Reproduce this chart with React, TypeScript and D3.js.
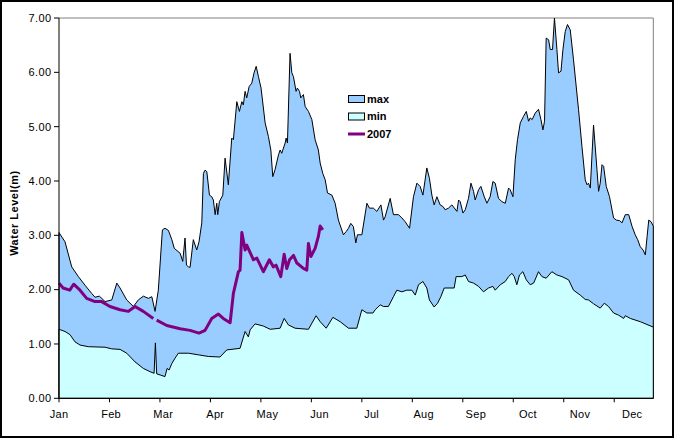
import React from "react";
import * as d3 from "d3";

// [day of year, water level (m)]
const maxSeries: [number, number][] = [
  [0, 3.05], [3.7, 2.88], [7.8, 2.42], [11.9, 2.24], [16.0, 2.08], [20.1, 1.93], [22.1, 1.86], [24.8, 1.88],
  [28.3, 1.78], [32.4, 1.81], [35.5, 2.12], [37.5, 2.03], [41.6, 1.81], [45.7, 1.69], [48.7, 1.81], [51.8, 1.88],
  [54.9, 1.84], [57.0, 1.87], [59.0, 1.6], [61.0, 1.99], [63.5, 3.1], [65.1, 3.13], [67.2, 3.09], [69.3, 2.92],
  [70.8, 2.76], [74.4, 2.67], [76.0, 2.52], [77.4, 2.95], [78.3, 2.45], [79.5, 2.42], [80.5, 2.41], [82.5, 2.92],
  [84.6, 2.73], [86.0, 2.88], [87.7, 3.23], [88.7, 4.14], [89.7, 4.2], [90.8, 4.17], [92.4, 3.74], [93.8, 3.71],
  [94.8, 3.65], [95.9, 3.38], [96.9, 3.59], [97.5, 3.38], [98.5, 3.62], [100.6, 3.74], [102.0, 4.42], [104.0, 3.93],
  [106.1, 4.79], [107.1, 4.76], [109.2, 5.46], [110.8, 5.28], [112.3, 5.46], [113.2, 5.4], [114.3, 5.65], [115.3, 5.53],
  [116.8, 5.74], [118.4, 5.8], [119.8, 5.99], [121.1, 6.11], [122.5, 5.92], [124.1, 5.71], [126.6, 5.07], [128.6, 4.82],
  [130.1, 4.57], [131.3, 4.08], [132.7, 4.21], [134.8, 4.48], [135.8, 4.57], [136.8, 4.51], [138.9, 4.7], [139.5, 4.79],
  [140.3, 4.7], [141.9, 6.35], [143.0, 5.99], [144.0, 5.92], [145.6, 5.65], [146.4, 5.71], [147.7, 5.65], [148.5, 5.53],
  [150.1, 5.59], [151.2, 5.37], [153.2, 5.28], [155.3, 5.13], [157.3, 4.76], [159.3, 4.57], [160.4, 4.33], [162.0, 4.14],
  [163.5, 4.02], [164.9, 3.78], [167.6, 3.74], [169.6, 3.59], [171.6, 3.28], [174.7, 3.01], [176.4, 3.07], [177.8, 3.13],
  [179.2, 3.22], [180.8, 3.16], [182.3, 2.86], [183.3, 3.01], [186.0, 3.01], [189.1, 3.59], [190.7, 3.5], [193.1, 3.5],
  [195.2, 3.44], [197.7, 3.56], [199.3, 3.28], [200.3, 3.34], [203.4, 3.68], [205.4, 3.38], [208.5, 3.38], [210.6, 3.32],
  [212.6, 3.25], [215.3, 3.13], [217.7, 3.71], [219.8, 3.96], [221.8, 3.9], [223.5, 3.74], [225.9, 4.24], [227.5, 4.05],
  [229.0, 3.74], [230.4, 3.56], [232.1, 3.71], [234.1, 3.56], [235.8, 3.53], [237.2, 3.47], [239.2, 3.5], [241.3, 3.56],
  [244.4, 3.44], [245.4, 3.65], [246.4, 3.62], [248.1, 3.41], [249.5, 3.47], [251.5, 3.68], [253.0, 3.96], [254.6, 3.81],
  [255.6, 3.65], [257.7, 3.84], [259.1, 3.9], [261.2, 3.71], [262.8, 3.59], [264.8, 3.71], [266.5, 3.99], [267.9, 3.96],
  [269.9, 3.68], [272.0, 3.62], [274.1, 3.59], [276.1, 3.87], [277.1, 3.84], [278.8, 3.71], [280.2, 4.39], [281.6, 4.76],
  [283.3, 5.07], [285.3, 5.19], [287.0, 5.28], [288.4, 5.1], [289.4, 5.16], [290.6, 5.13], [292.5, 5.25], [294.5, 5.32],
  [296.0, 5.13], [297.2, 4.94], [298.2, 5.1], [299.2, 6.63], [300.7, 6.6], [301.7, 6.42], [303.1, 6.42], [304.3, 7.0],
  [305.8, 6.42], [306.8, 5.99], [308.3, 6.02], [309.5, 6.42], [310.9, 6.75], [312.3, 6.88], [314.0, 6.78], [316.0, 6.23],
  [319.1, 5.31], [321.2, 4.63], [323.2, 4.02], [324.3, 3.93], [325.2, 3.96], [326.3, 3.87], [328.3, 5.03], [330.4, 4.21],
  [331.4, 3.81], [332.4, 3.96], [333.5, 4.3], [334.5, 4.27], [336.1, 3.9], [338.1, 3.71], [340.6, 3.32], [342.3, 3.28],
  [344.3, 3.27], [345.8, 3.23], [347.8, 3.38], [349.9, 3.38], [352.0, 3.16], [353.9, 3.01], [355.4, 2.92], [357.0, 2.79],
  [358.7, 2.73], [360.1, 2.64], [361.2, 2.98], [362.2, 3.28], [363.6, 3.25], [365, 3.17],
];

const minSeries: [number, number][] = [
  [0, 1.27], [3.7, 1.23], [6.8, 1.17], [9.8, 1.04], [12.9, 0.98], [18.0, 0.95], [28.3, 0.94], [32.4, 0.91],
  [37.5, 0.9], [41.6, 0.83], [46.7, 0.67], [51.8, 0.55], [55.9, 0.49], [58.4, 0.46], [59.2, 1.02], [60.0, 0.45],
  [62.1, 0.43], [65.1, 0.4], [66.4, 0.55], [67.6, 0.52], [69.3, 0.64], [71.3, 0.74], [73.3, 0.83], [79.5, 0.83],
  [85.6, 0.8], [91.7, 0.77], [98.9, 0.76], [103.0, 0.89], [111.2, 0.92], [114.3, 1.23], [116.3, 1.13], [117.4, 1.26],
  [120.4, 1.37], [125.5, 1.33], [129.7, 1.27], [135.8, 1.29], [138.3, 1.47], [140.9, 1.35], [145.0, 1.29], [153.2, 1.27],
  [157.9, 1.52], [160.4, 1.41], [164.1, 1.29], [168.2, 1.49], [172.7, 1.41], [177.8, 1.29], [182.9, 1.29], [186.0, 1.63],
  [189.1, 1.57], [192.8, 1.57], [194.2, 1.63], [197.3, 1.72], [199.3, 1.69], [202.3, 1.69], [205.4, 1.87], [207.5, 1.99],
  [210.6, 1.96], [213.6, 1.99], [216.7, 1.99], [218.8, 1.9], [220.8, 2.09], [223.5, 2.15], [225.9, 2.03], [227.5, 1.81],
  [230.4, 1.68], [232.5, 1.75], [234.5, 1.87], [236.6, 2.03], [242.7, 2.03], [243.9, 2.24], [247.4, 2.24], [249.5, 2.27],
  [251.5, 2.15], [254.6, 2.12], [257.7, 2.06], [260.7, 1.96], [263.8, 2.03], [266.5, 2.06], [267.9, 1.99], [271.0, 2.09],
  [274.1, 2.15], [276.1, 2.24], [278.2, 2.3], [279.6, 2.24], [281.2, 2.09], [282.8, 2.27], [284.9, 2.33], [287.0, 2.18],
  [289.4, 2.09], [291.5, 2.12], [294.5, 2.33], [296.6, 2.24], [299.2, 2.21], [302.7, 2.33], [305.8, 2.27], [308.9, 2.24],
  [313.0, 2.18], [316.0, 1.99], [320.1, 1.9], [323.2, 1.82], [325.2, 1.81], [328.3, 1.74], [332.4, 1.66], [334.9, 1.75],
  [337.5, 1.69], [340.6, 1.57], [343.7, 1.53], [346.8, 1.47], [347.8, 1.52], [350.9, 1.47], [357.0, 1.41], [365, 1.31],
];

// null = missing reading
const series2007: [number, number | null][] = [
  [0, 2.12], [2.5, 2.03], [6.6, 1.99], [9.0, 2.1], [12.9, 1.99], [17.0, 1.84], [22.1, 1.78], [26.2, 1.78],
  [31.3, 1.69], [37.5, 1.63], [42.6, 1.6], [46.7, 1.69], [51.8, 1.6], [57.9, 1.47], [59.0, null], [60.0, 1.44],
  [66.2, 1.34], [74.4, 1.28], [80.5, 1.25], [86.0, 1.2], [89.7, 1.25], [93.8, 1.47], [97.9, 1.55], [100.9, 1.47],
  [105.1, 1.39], [107.1, 1.93], [110.2, 2.33], [111.2, 2.36], [112.3, 3.05], [114.3, 2.73], [115.3, 2.82], [119.4, 2.55],
  [121.5, 2.58], [125.5, 2.33], [129.2, 2.55], [131.6, 2.42], [133.3, 2.45], [136.2, 2.24], [138.3, 2.65], [139.9, 2.39],
  [141.6, 2.55], [144.0, 2.63], [146.1, 2.49], [150.1, 2.39], [152.2, 2.36], [153.2, 2.85], [154.7, 2.61], [157.3, 2.76],
  [159.3, 2.98], [160.4, 3.17], [162.0, 3.1],
];

const months = ["Jan", "Feb", "Mar", "Apr", "May", "Jun", "Jul", "Aug", "Sep", "Oct", "Nov", "Dec"];
const yTicks = [0, 1, 2, 3, 4, 5, 6, 7];
const legendItems = ["max", "min", "2007"];

const W = 675;
const H = 439;
const L = 59;
const R = 653.3;
const T = 18;
const B = 398.3;

export default function App() {
  const x = d3.scaleLinear().domain([0, 365]).range([L, R]);
  const y = d3.scaleLinear().domain([0, 7]).range([B, T]);

  const area = d3
    .area<[number, number]>()
    .x((d) => x(d[0]))
    .y0(y(0))
    .y1((d) => y(d[1]));

  const line = d3
    .line<[number, number | null]>()
    .defined((d) => d[1] !== null)
    .x((d) => x(d[0]))
    .y((d) => y(d[1] as number));

  const font = "'Liberation Sans', Arial, sans-serif";

  return (
    <svg
      width={W}
      height={H}
      style={{ position: "absolute", left: 0, top: 0, background: "#fff" }}
      fontFamily={font}
    >
      <rect x={1} y={1} width={672} height={436} fill="#fff" stroke="#000" strokeWidth={2} />
      {/* plot area border */}
      <path d={`M${L},${T}H${R}V${B}`} fill="none" stroke="#808080" strokeWidth={1} />
      <path d={area(maxSeries) || ""} fill="#99CCFF" stroke="#000" strokeWidth={1} strokeLinejoin="round" />
      <path d={area(minSeries) || ""} fill="#CCFFFF" stroke="#000" strokeWidth={1} strokeLinejoin="round" />
      <path d={line(series2007) || ""} fill="none" stroke="#800080" strokeWidth={3} strokeLinejoin="round" />

      {/* axes */}
      <line x1={L} x2={L} y1={T} y2={B} stroke="#000" />
      <line x1={L} x2={R} y1={B} y2={B} stroke="#000" />
      {yTicks.map((t) => (
        <g key={t}>
          <line x1={L - 5} x2={L} y1={y(t)} y2={y(t)} stroke="#000" />
          <text x={51.5} y={y(t)} dy="0.35em" textAnchor="end" fontSize={11} letterSpacing={0.4} fill="#000">
            {t.toFixed(2)}
          </text>
        </g>
      ))}
      {months.map((m, i) => (
        <g key={m}>
          <line x1={x(i * 31)} x2={x(i * 31)} y1={B} y2={B + 4} stroke="#000" />
          <text x={x(i * 32)} y={418} textAnchor="middle" fontSize={11} letterSpacing={0.3} fill="#000">
            {m}
          </text>
        </g>
      ))}
      <text
        transform={`translate(18,${(T + B) / 2 + 5}) rotate(-90)`}
        textAnchor="middle"
        fontSize={11}
        fontWeight="bold"
        letterSpacing={0.5}
        fill="#000"
      >
        Water Level(m)
      </text>

      {/* legend */}
      {legendItems.map((name, i) => {
        const ly = 99 + i * 17.5;
        return (
          <g key={name}>
            {name === "2007" ? (
              <line x1={348} x2={365} y1={ly} y2={ly} stroke="#800080" strokeWidth={3} />
            ) : (
              <rect
                x={348.5}
                y={ly - 3.5}
                width={16}
                height={7}
                fill={name === "max" ? "#99CCFF" : "#CCFFFF"}
                stroke="#000"
                strokeWidth={1}
              />
            )}
            <text x={367} y={ly} dy="0.36em" fontSize={11} fontWeight="bold" fill="#000">
              {name}
            </text>
          </g>
        );
      })}
    </svg>
  );
}
